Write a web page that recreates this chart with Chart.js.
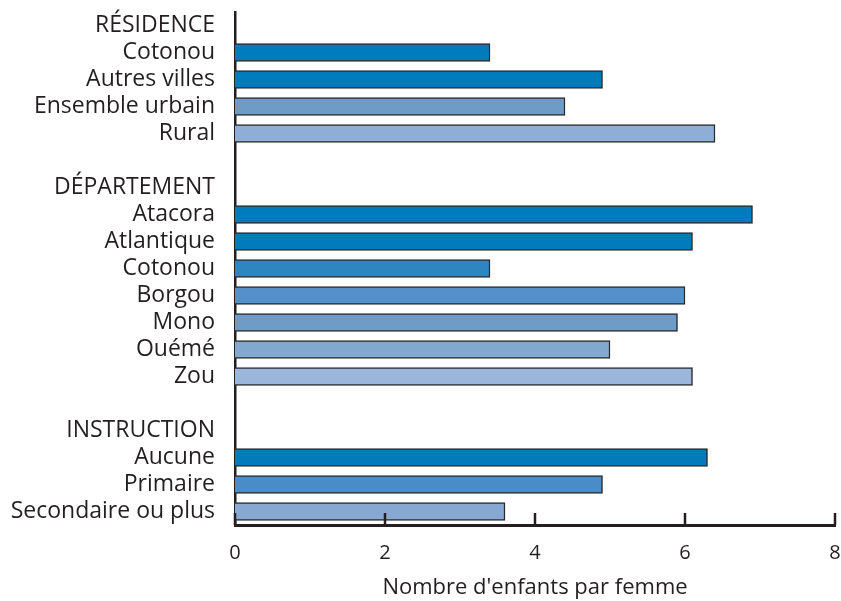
<!DOCTYPE html>
<html>
<head>
<meta charset="utf-8">
<script src="https://cdn.jsdelivr.net/npm/chart.js@4.4.1/dist/chart.umd.min.js"></script>
<style>
  html, body { margin: 0; padding: 0; background: #fff; }
  #wrap { width: 841px; height: 601px; }
</style>
</head>
<body>
<div id="wrap"><canvas id="c" width="841" height="601"></canvas></div>
<script>
// ---- Data ------------------------------------------------------------------
const categories = [
  "RÉSIDENCE", "Cotonou", "Autres villes", "Ensemble urbain", "Rural", "",
  "DÉPARTEMENT", "Atacora", "Atlantique", "Cotonou", "Borgou", "Mono", "Ouémé", "Zou", "",
  "INSTRUCTION", "Aucune", "Primaire", "Secondaire ou plus"
];
const fertility = [
  null, 3.4, 4.9, 4.4, 6.4, null,
  null, 6.9, 6.1, 3.4, 6.0, 5.9, 5.0, 6.1, null,
  null, 6.3, 4.9, 3.6
];
const barColors = [
  null, "#007cbd", "#007cbd", "#6e9cc7", "#8eaed5", null,
  null, "#007cbd", "#007cbd", "#2e86c1", "#5590c8", "#6e9cc7", "#83a8d0", "#9ab6db", null,
  null, "#007cbd", "#4a8cc7", "#87a8d2"
];
const xTicks = [0, 2, 4, 6, 8];

const FONT = "'Open Sans', 'DejaVu Sans', sans-serif";
const INK = "#231f20";

// short tick marks pointing up from the x axis
const innerTicks = {
  id: "innerTicks",
  afterDraw(chart) {
    const x = chart.scales.x, ctx = chart.ctx;
    const y0 = chart.chartArea.bottom;
    ctx.save();
    ctx.strokeStyle = INK;
    ctx.lineWidth = 2.5;
    xTicks.forEach(v => {
      const px = x.getPixelForValue(v);
      ctx.beginPath();
      ctx.moveTo(px, y0);
      ctx.lineTo(px, y0 - 12);
      ctx.stroke();
    });
    ctx.restore();
  }
};

new Chart(document.getElementById("c"), {
  type: "bar",
  data: {
    labels: categories,
    datasets: [{
      data: fertility,
      backgroundColor: barColors,
      borderColor: "#2b2b2b",
      borderWidth: 1.5,
      borderSkipped: "start",
      barThickness: 18
    }]
  },
  options: {
    indexAxis: "y",
    responsive: false,
    animation: false,
    layout: { padding: { top: 12, right: 6, left: 0, bottom: 0 } },
    plugins: { legend: { display: false }, tooltip: { enabled: false } },
    scales: {
      x: {
        min: 0, max: 8,
        afterBuildTicks: s => { s.ticks = xTicks.map(v => ({ value: v })); },
        afterFit: s => { s.height = 76; s.paddingLeft = 0; s.paddingRight = 0; },
        grid: { display: false },
        border: { display: true, color: INK, width: 3 },
        ticks: { color: INK, padding: 8, font: { family: FONT, size: 20 } },
        title: {
          display: true,
          text: "Nombre d'enfants par femme",
          color: INK,
          padding: { top: 0, bottom: 0 },
          font: { family: FONT, size: 22 }
        }
      },
      y: {
        afterFit: s => { s.width = 235; s.paddingTop = 0; s.paddingBottom = 0; },
        grid: { display: false },
        border: { display: true, color: INK, width: 2.5 },
        ticks: { color: INK, padding: 12, autoSkip: false, font: { family: FONT, size: 23 } }
      }
    }
  },
  plugins: [innerTicks]
});
</script>
</body>
</html>
